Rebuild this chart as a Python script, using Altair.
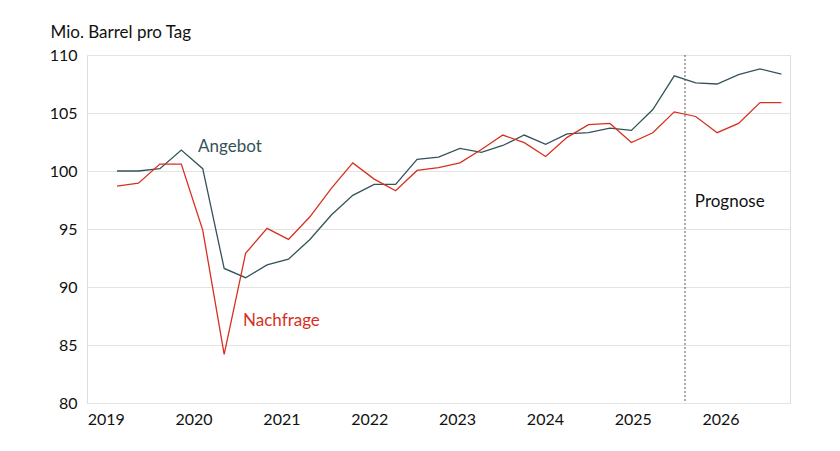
import altair as alt
import pandas as pd

# Quarterly data 2019Q1 .. 2026Q4 (million barrels per day)
quarters = [f"{y}Q{q}" for y in range(2019, 2027) for q in range(1, 5)]
angebot = [100.0, 100.0, 100.2, 101.8, 100.2, 91.6, 90.8, 91.9,
           92.4, 94.1, 96.2, 97.9, 98.85, 98.85, 101.0, 101.2,
           101.95, 101.6, 102.2, 103.1, 102.3, 103.2, 103.3, 103.7,
           103.5, 105.3, 108.2, 107.6, 107.5, 108.3, 108.8, 108.35]
nachfrage = [98.7, 98.95, 100.6, 100.6, 94.9, 84.2, 92.9, 95.05,
             94.1, 96.05, 98.5, 100.7, 99.3, 98.3, 100.05, 100.3,
             100.7, 101.85, 103.1, 102.45, 101.25, 102.9, 104.0, 104.1,
             102.45, 103.3, 105.1, 104.7, 103.3, 104.1, 105.9, 105.9]
year_labels = ["2019", "2020", "2021", "2022", "2023", "2024", "2025", "2026"]
y_ticks = [80, 85, 90, 95, 100, 105, 110]

# forecast start (between 2025Q3 and 2025Q4), in quarter-index units
forecast_start = 26.5
# tick positions for year labels, in quarter-index units
label_first, label_step = -0.525, 4.098
tick_vals = [round(label_first + label_step * k, 3) for k in range(len(year_labels))]

C_ANG = "#34525a"
C_NACH = "#d7301f"
FONT = "Lato"

rows = []
for i, q in enumerate(quarters):
    rows.append({"i": i, "q": q, "serie": "Angebot", "v": angebot[i]})
    rows.append({"i": i, "q": q, "serie": "Nachfrage", "v": nachfrage[i]})
df = pd.DataFrame(rows)

ann = pd.DataFrame([
    {"i": 3.78, "v": 102.07, "t": "Angebot", "c": C_ANG},
    {"i": 5.88, "v": 87.07, "t": "Nachfrage", "c": C_NACH},
    {"i": 26.96, "v": 97.33, "t": "Prognose", "c": "#111111"},
])

label_expr = "[" + ",".join(f"'{y}'" for y in year_labels) + f"][round((datum.value - ({label_first})) / {label_step})]"

x_scale = alt.Scale(domain=[-1.4, 31.4], nice=False, zero=False)
y_scale = alt.Scale(domain=[80, 110], nice=False, zero=False)

lines = alt.Chart(df).mark_line(strokeWidth=1.3).encode(
    x=alt.X("i:Q", scale=x_scale,
            axis=alt.Axis(values=tick_vals, labelExpr=label_expr, title=None,
                          grid=False, ticks=False, domain=False,
                          labelPadding=8, labelFontSize=16, labelFont=FONT,
                          labelColor="#111111")),
    y=alt.Y("v:Q", scale=y_scale,
            axis=alt.Axis(values=y_ticks, title="Mio. Barrel pro Tag",
                          titleAngle=0, titleAlign="left", titleBaseline="alphabetic",
                          titleX=-37, titleY=-18, titleFontSize=17, titleFont=FONT,
                          titleFontWeight="normal", titleColor="#111111",
                          grid=True, gridColor="#e3e3e3", ticks=False, domain=False,
                          labelPadding=10, labelFontSize=16, labelFont=FONT,
                          labelColor="#111111")),
    color=alt.Color("serie:N",
                    scale=alt.Scale(domain=["Angebot", "Nachfrage"], range=[C_ANG, C_NACH]),
                    legend=None),
)

rule = alt.Chart(pd.DataFrame({"i": [forecast_start]})).mark_rule(
    strokeDash=[2, 2], color="#555555", strokeWidth=1
).encode(x="i:Q")

texts = alt.Chart(ann).mark_text(align="left", baseline="middle", fontSize=17, font=FONT).encode(
    x="i:Q", y="v:Q", text="t:N",
    color=alt.Color("c:N", scale=None),
)

chart = alt.layer(lines, rule, texts).properties(
    width=703, height=348,
    autosize=alt.AutoSizeParams(type="none"),
    padding={"left": 79, "top": 47, "right": 30, "bottom": 40},
).configure_view(stroke=None).configure(background="white")

chart.save("out.html", embed_options={"renderer": "svg", "actions": False})
